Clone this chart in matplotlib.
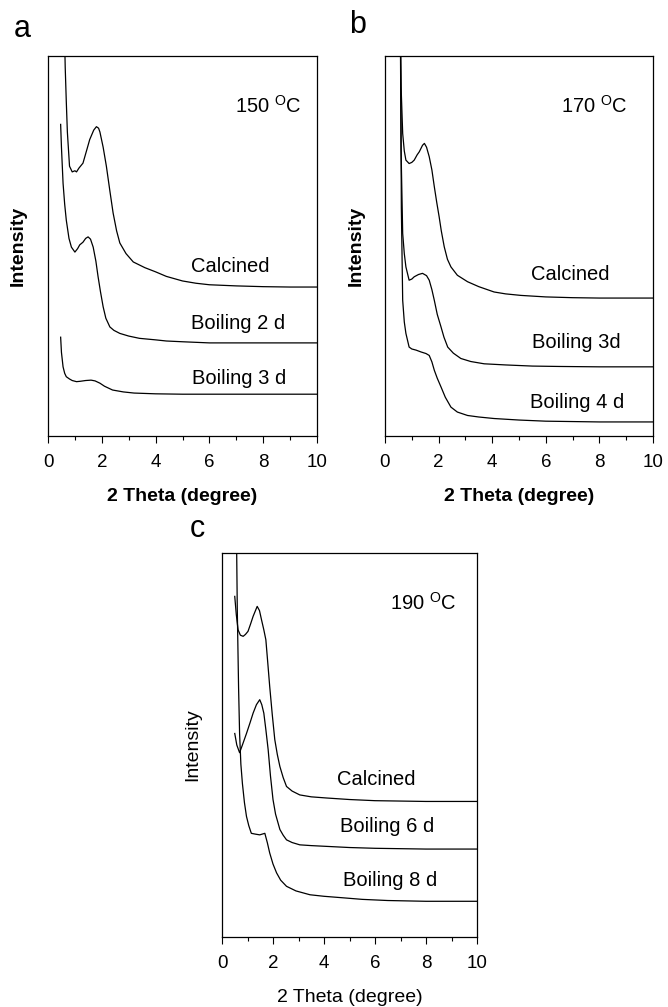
import matplotlib
matplotlib.use("Agg")
import matplotlib.pyplot as plt
from matplotlib.ticker import MultipleLocator

plt.rcParams['font.family'] = ['Liberation Sans', 'DejaVu Sans']
plt.rcParams['mathtext.fontset'] = 'custom'
plt.rcParams['mathtext.rm'] = 'Liberation Sans'

# ---------------- data (intensity in arbitrary units, 0-100 display) ----------------
# Panel a: 150 C
a_calc_x = [0.60, 0.64, 0.68, 0.72, 0.80, 0.90, 1.00, 1.06, 1.15, 1.30, 1.45, 1.55, 1.70, 1.80, 1.88, 1.93, 2.05, 2.17, 2.30, 2.42, 2.55, 2.67, 2.90, 3.17, 3.60, 4.00, 4.40, 5.00, 5.50, 6.00, 7.00, 8.00, 9.00, 10.0]
a_calc_y = [110, 97, 88, 80, 71, 69.5, 69.8, 69.5, 70.5, 71.8, 75.5, 78, 80.5, 81.4, 81, 80, 76, 71, 64.5, 58.7, 54, 50.8, 48, 45.8, 44.3, 43.2, 42.0, 40.8, 40.2, 39.8, 39.5, 39.3, 39.2, 39.2]
a_b2_x = [0.47, 0.50, 0.56, 0.62, 0.68, 0.78, 0.87, 1.00, 1.10, 1.18, 1.30, 1.40, 1.49, 1.58, 1.68, 1.78, 1.86, 1.95, 2.05, 2.15, 2.30, 2.45, 2.67, 3.00, 3.40, 4.00, 4.40, 5.00, 6.00, 7.00, 8.00, 9.00, 10.0]
a_b2_y = [82, 76, 66.5, 61, 56.8, 52, 49.7, 48.4, 49.3, 50.3, 51, 52, 52.4, 51.8, 49.7, 46, 42, 38, 34, 31, 28.7, 27.8, 27, 26.3, 25.7, 25.3, 25, 24.8, 24.5, 24.5, 24.5, 24.5, 24.5]
a_b3_x = [0.47, 0.50, 0.56, 0.62, 0.68, 0.80, 0.90, 1.06, 1.20, 1.40, 1.60, 1.75, 1.93, 2.10, 2.40, 2.80, 3.20, 4.00, 5.00, 6.00, 8.00, 10.0]
a_b3_y = [26, 22, 18.2, 16.5, 15.6, 15.0, 14.6, 14.3, 14.4, 14.6, 14.7, 14.5, 13.9, 13.1, 12.1, 11.6, 11.3, 11.1, 11.0, 11.0, 11.0, 11.0]

# Panel b: 170 C
b_calc_x = [0.56, 0.60, 0.66, 0.72, 0.78, 0.90, 1.00, 1.09, 1.20, 1.28, 1.40, 1.47, 1.55, 1.65, 1.75, 1.84, 1.93, 2.02, 2.10, 2.21, 2.33, 2.46, 2.70, 3.08, 3.50, 4.07, 4.50, 5.07, 6.00, 7.00, 8.00, 9.00, 10.0]
b_calc_y = [110, 92, 79.6, 75, 72.6, 71.7, 72, 72.6, 74, 74.8, 76.5, 77, 76, 73.5, 70, 65.6, 61.5, 57.7, 54, 49.8, 46.5, 44.5, 42.3, 40.6, 39.3, 37.9, 37.4, 37, 36.6, 36.4, 36.3, 36.3, 36.3]
b_b3_x = [0.57, 0.60, 0.66, 0.72, 0.78, 0.90, 1.00, 1.09, 1.25, 1.40, 1.55, 1.65, 1.75, 1.84, 1.95, 2.09, 2.20, 2.34, 2.55, 2.83, 3.20, 3.70, 4.50, 5.50, 6.50, 8.00, 10.0]
b_b3_y = [110, 75, 53.3, 48, 44.5, 41, 41.3, 41.9, 42.5, 42.8, 42.2, 41, 38.5, 35.7, 32, 28.7, 26, 23.4, 21.8, 20.4, 19.6, 19, 18.7, 18.4, 18.3, 18.2, 18.2]
b_b4_x = [0.58, 0.61, 0.66, 0.72, 0.78, 0.90, 1.00, 1.16, 1.35, 1.53, 1.65, 1.75, 1.84, 1.95, 2.09, 2.25, 2.46, 2.70, 3.08, 3.50, 4.07, 5.00, 6.00, 7.00, 8.00, 10.0]
b_b4_y = [110, 60, 35.7, 30, 27, 23.4, 22.9, 22.6, 22.1, 21.7, 21.2, 19.5, 17.3, 15.2, 12.9, 10.2, 7.6, 6.3, 5.4, 5.0, 4.6, 4.2, 3.9, 3.8, 3.7, 3.7]

# Panel c: 190 C
c_calc_x = [0.50, 0.56, 0.63, 0.72, 0.83, 0.92, 1.02, 1.12, 1.22, 1.30, 1.38, 1.47, 1.55, 1.64, 1.72, 1.80, 1.87, 1.97, 2.07, 2.17, 2.27, 2.40, 2.53, 2.75, 3.05, 3.50, 4.10, 5.00, 6.00, 7.00, 8.00, 10.0]
c_calc_y = [88.7, 84, 80, 78.6, 78.3, 78.8, 79.6, 81.5, 83.5, 84.8, 86.1, 85, 82.6, 80, 77.4, 71, 65.3, 58, 51.4, 47.5, 44.4, 41.5, 39.2, 38, 37, 36.5, 36.2, 35.8, 35.5, 35.4, 35.3, 35.3]
c_b6_x = [0.50, 0.58, 0.69, 0.80, 0.96, 1.10, 1.22, 1.35, 1.48, 1.56, 1.64, 1.72, 1.81, 1.90, 2.00, 2.10, 2.27, 2.40, 2.53, 2.75, 3.05, 3.50, 4.10, 5.00, 6.00, 7.00, 8.00, 10.0]
c_b6_y = [53, 50, 48, 50, 53, 55.8, 58.3, 60.5, 61.8, 60.5, 58.3, 54, 48.8, 42, 35.8, 32, 28, 26.5, 25.3, 24.6, 24, 23.8, 23.6, 23.3, 23.1, 23.0, 22.9, 22.9]
c_b8_x = [0.56, 0.60, 0.65, 0.69, 0.74, 0.80, 0.88, 0.96, 1.05, 1.15, 1.30, 1.48, 1.58, 1.68, 1.78, 1.87, 2.00, 2.14, 2.30, 2.53, 2.90, 3.45, 4.00, 4.76, 5.50, 6.50, 8.00, 10.0]
c_b8_y = [110, 85, 65, 53, 45, 40, 35, 31.4, 29, 27, 26.8, 26.6, 26.8, 27, 24.5, 21.9, 19, 16.7, 14.8, 13.2, 12, 11, 10.6, 10.2, 9.8, 9.5, 9.3, 9.3]

panel_letters = ['a', 'b', 'c']
temps = ['150', '170', '190']
labels_a = ['Calcined', 'Boiling 2 d', 'Boiling 3 d']
labels_b = ['Calcined', 'Boiling 3d', 'Boiling 4 d']
labels_c = ['Calcined', 'Boiling 6 d', 'Boiling 8 d']
xticks = [0, 2, 4, 6, 8, 10]

W, H = 668, 1007
fig = plt.figure(figsize=(W / 100, H / 100), dpi=100)

def px_axes(l, t, r, b):
    return fig.add_axes([l / W, 1 - b / H, (r - l) / W, (b - t) / H])

ax_a = px_axes(48, 56, 317, 436)
ax_b = px_axes(385, 56, 653, 436)
ax_c = px_axes(222, 553, 477, 937)

panels = [
    (ax_a, [(a_calc_x, a_calc_y), (a_b2_x, a_b2_y), (a_b3_x, a_b3_y)], labels_a,
     [(6.77, 44.5), (7.05, 29.7), (7.09, 15.2)], (8.2, 87), 'bold'),
    (ax_b, [(b_calc_x, b_calc_y), (b_b3_x, b_b3_y), (b_b4_x, b_b4_y)], labels_b,
     [(6.93, 42.6), (7.12, 24.5), (7.16, 8.7)], (7.8, 87), 'bold'),
    (ax_c, [(c_calc_x, c_calc_y), (c_b6_x, c_b6_y), (c_b8_x, c_b8_y)], labels_c,
     [(6.06, 41.1), (6.46, 28.8), (6.58, 14.8)], (7.9, 87), 'normal'),
]

for i, (ax, curves, labs, lpos, tpos, weight) in enumerate(panels):
    for (x, y) in curves:
        ax.plot(x, y, color='black', lw=0.9)
    ax.set_xlim(0, 10)
    ax.set_ylim(0, 100)
    ax.set_xticks(xticks)
    ax.xaxis.set_minor_locator(MultipleLocator(1))
    ax.tick_params(axis='x', which='major', direction='out', length=5, width=0.8,
                   labelsize=13.5, pad=8)
    ax.tick_params(axis='x', which='minor', direction='out', length=3, width=0.8)
    ax.set_yticks([])
    for s in ax.spines.values():
        s.set_linewidth(0.9)
    for lab, (lx, ly) in zip(labs, lpos):
        ax.text(lx, ly, lab, ha='center', va='center', fontsize=14.5)
    ax.text(tpos[0], tpos[1], temps[i] + r' $\mathregular{^{O}}$C', ha='center', va='center', fontsize=14.5)
    ax.set_xlabel('2 Theta (degree)', fontsize=14, fontweight=weight)
    ax.set_ylabel('Intensity', fontsize=14, fontweight=weight)

ax_a.xaxis.set_label_coords(0.5, -0.158)
ax_b.xaxis.set_label_coords(0.5, -0.158)
ax_c.xaxis.set_label_coords(0.5, -0.158)
for ax in (ax_a, ax_b, ax_c):
    ax.xaxis.label.set_va('center')
    ax.yaxis.label.set_va('center')
ax_a.yaxis.set_label_coords(-0.112, 0.5)
ax_b.yaxis.set_label_coords(-0.108, 0.5)
ax_c.yaxis.set_label_coords(-0.114, 0.5)

fig.text(22 / W, 1 - 29 / H, 'a', fontsize=22, ha='center', va='center')
fig.text(358 / W, 1 - 25 / H, 'b', fontsize=22, ha='center', va='center')
fig.text(197 / W, 1 - 529 / H, 'c', fontsize=22, ha='center', va='center')

fig.savefig('out.png', dpi=100, facecolor='white')
